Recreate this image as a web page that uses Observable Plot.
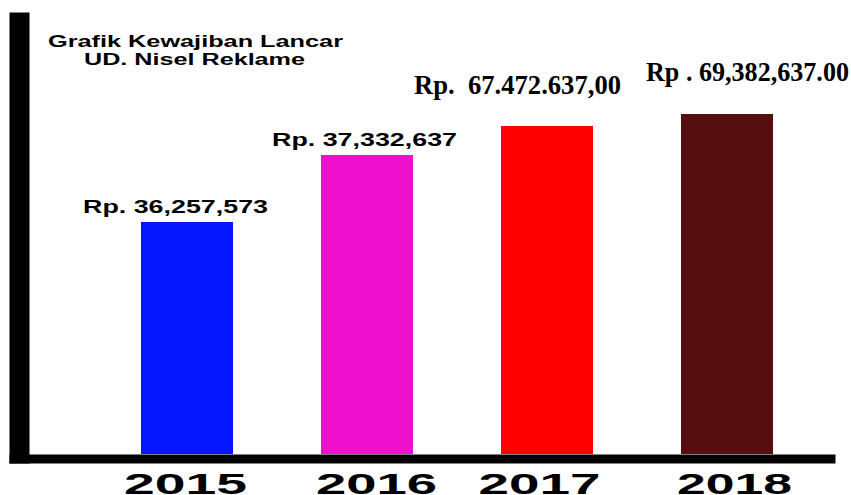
<!DOCTYPE html>
<html><head><meta charset="utf-8">
<script src="https://cdn.jsdelivr.net/npm/d3@7"></script>
<script src="https://cdn.jsdelivr.net/npm/@observablehq/plot@0.6"></script>
<style>
html,body{margin:0;padding:0;background:#fff;}
#chart svg text{white-space:pre;}
</style></head><body><div id="chart"></div>
<script>
// ---- data ----
const years = ["2015", "2016", "2017", "2018"];
const valueLabels = ["Rp. 36,257,573", "Rp. 37,332,637", "Rp.  67.472.637,00", "Rp . 69,382,637.00"];
// drawn bar heights (the original graphic is not to scale)
const barHeights = [232, 299, 328, 340];
const barColors = ["#0515ff", "#ee10cc", "#ff0000", "#560f10"];
const titleLines = ["Grafik Kewajiban Lancar", "UD. Nisel Reklame"];

const data = years.map((year, i) => ({year, h: barHeights[i], label: valueLabels[i]}));

// ---- layout ----
const sans = "Liberation Sans, Arial, sans-serif";
const serif = "Liberation Serif, Times New Roman, serif";
const labelLayout = {
  "2015": {dx: -12, dy: -10, fontFamily: sans, fontSize: 18, width: 185},
  "2016": {dx: -3, dy: -10, fontFamily: sans, fontSize: 18, width: 185},
  "2017": {dx: -30, dy: -33, fontFamily: serif, fontSize: 28, width: 207},
  "2018": {dx: 20, dy: -34, fontFamily: serif, fontSize: 28, width: 203}
};
const yearLayout = {
  "2015": {dx: -2, width: 123},
  "2016": {dx: 9, width: 121},
  "2017": {dx: -8, width: 122},
  "2018": {dx: 7, width: 115}
};

const marks = [
  // axis bars (thick black L)
  Plot.frame({fill: "black", stroke: "none", insetLeft: -96, insetRight: 780, insetTop: -42, insetBottom: -9}),
  Plot.frame({fill: "black", stroke: "none", insetLeft: -96, insetRight: -26, insetTop: 400, insetBottom: -9}),
  Plot.barY(data, {x: "year", y: "h", fill: "year"}),
  Plot.text([titleLines[0]], {frameAnchor: "top-left", text: d => d, dx: 90, dy: -8, lineAnchor: "bottom",
    textAnchor: "middle", fontFamily: sans, fontSize: 16, fontWeight: "bold", fill: "black"}),
  Plot.text([titleLines[1]], {frameAnchor: "top-left", text: d => d, dx: 89, dy: 10, lineAnchor: "bottom",
    textAnchor: "middle", fontFamily: sans, fontSize: 16, fontWeight: "bold", fill: "black"})
];
for (const y of years) {
  const L = labelLayout[y];
  marks.push(Plot.text(data.filter(d => d.year === y), {
    x: "year", y: "h", text: "label", lineAnchor: "bottom", dx: L.dx, dy: L.dy,
    fontFamily: L.fontFamily, fontSize: L.fontSize, fontWeight: "bold", fill: "black"
  }));
  const Y = yearLayout[y];
  marks.push(Plot.text([y], {
    x: d => d, text: d => d, frameAnchor: "bottom", lineAnchor: "bottom", dy: 39, dx: Y.dx,
    fontFamily: sans, fontSize: 29, fontWeight: "bold", fill: "black"
  }));
}

const chart = Plot.plot({
  width: 851, height: 495,
  marginLeft: 105, marginRight: 42, marginTop: 54, marginBottom: 41,
  style: {background: "#fff", overflow: "visible"},
  x: {domain: years, paddingInner: 0.489, paddingOuter: 0.2, axis: null},
  y: {domain: [0, 400], axis: null},
  color: {domain: years, range: barColors},
  marks
});
document.getElementById("chart").appendChild(chart);

// stretch texts to the widths they have in the original
const fitWidths = new Map();
for (const y of years) { fitWidths.set(data.find(d => d.year === y).label, labelLayout[y].width); fitWidths.set(y, yearLayout[y].width); }
fitWidths.set(titleLines[0], 295);
fitWidths.set(titleLines[1], 221);
chart.querySelectorAll("text").forEach(t => {
  const w = fitWidths.get(t.textContent);
  if (w) { t.setAttribute("textLength", w); t.setAttribute("lengthAdjust", "spacingAndGlyphs"); }
});
</script></body></html>
